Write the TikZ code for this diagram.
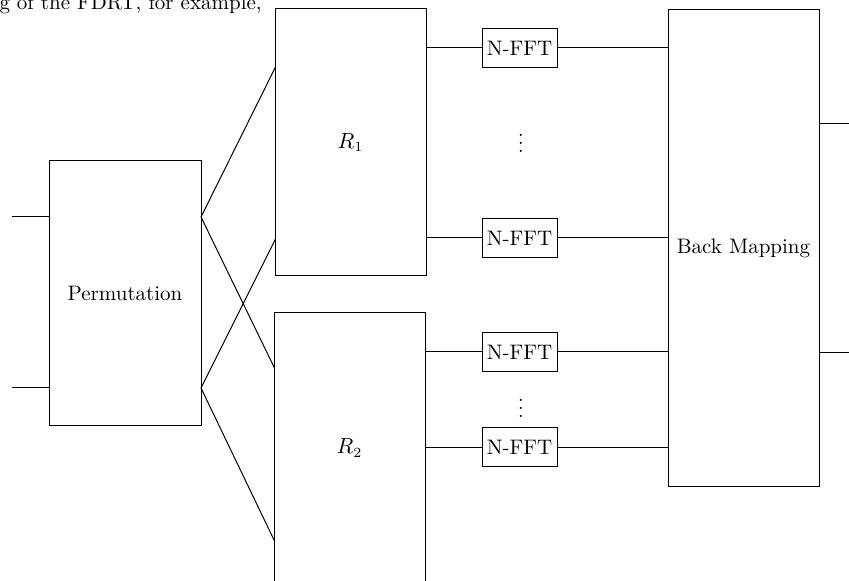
\documentclass[tikz,border=0pt]{standalone}
\usetikzlibrary{calc}
\begin{document}
\begin{tikzpicture}[x=0.5pt,y=-0.5pt,line width=0.5pt,
  blk/.style={draw,inner sep=0pt,font=\fontsize{10.5}{12}\selectfont},
  fftbox/.style={draw,inner sep=0pt,minimum width=37.5pt,minimum height=19.5pt,font=\fontsize{10.5}{12}\selectfont}]
\useasboundingbox (0,0) rectangle (849,581);
\clip (0,0) rectangle (849,581);
% partial text at the top
\node[anchor=base west,inner sep=0pt,font=\fontsize{10.5}{12}\selectfont] (top) at (-1,10) {g of the FDRT, for example,};
% blocks
\node[blk,minimum width=76pt,minimum height=132.5pt] (perm) at (125,293.5) {Permutation};
\node[blk,minimum width=75.5pt,minimum height=133.5pt] (r1) at (350.5,142.5) {$R_1$};
\node[blk,minimum width=75.5pt,minimum height=135pt] (r2) at (349.5,448) {$R_2$};
\node[blk,minimum width=75.5pt,minimum height=238pt] (bm) at (743.5,248) {Back Mapping};
\node[fftbox] (f1) at (519.5,48) {N-FFT};
\node[fftbox] (f2) at (519.5,238) {N-FFT};
\node[fftbox] (f3) at (519.5,352) {N-FFT};
\node[fftbox] (f4) at (519.5,447) {N-FFT};
\node[inner sep=0pt] (d1) at (521,137) {$\vdots$};
\node[inner sep=0pt] (d2) at (521,402) {$\vdots$};
% helper coordinates
\coordinate (in1) at (12,217);
\coordinate (in2) at (12,388);
\coordinate (pa) at (201,217);
\coordinate (pb) at (201,388);
\coordinate (r1a) at (275.5,67);
\coordinate (r1b) at (275.5,239);
\coordinate (r2a) at (274.5,368);
\coordinate (r2b) at (274.5,541);
\coordinate (o1) at (849,124);
\coordinate (o2) at (849,353);
% inputs
\draw (in1) -- (in1 -| perm.west);
\draw (in2) -- (in2 -| perm.west);
% fan out
\draw (pa) -- (r1a);
\draw (pa) -- (r2a);
\draw (pb) -- (r1b);
\draw (pb) -- (r2b);
% FFT connections
\draw (r1.east |- f1) -- (f1.west);
\draw (f1.east) -- (bm.west |- f1);
\draw (r1.east |- f2) -- (f2.west);
\draw (f2.east) -- (bm.west |- f2);
\draw (r2.east |- f3) -- (f3.west);
\draw (f3.east) -- (bm.west |- f3);
\draw (r2.east |- f4) -- (f4.west);
\draw (f4.east) -- (bm.west |- f4);
% outputs
\draw (bm.east |- o1) -- (o1);
\draw (bm.east |- o2) -- (o2);
\end{tikzpicture}
\end{document}
